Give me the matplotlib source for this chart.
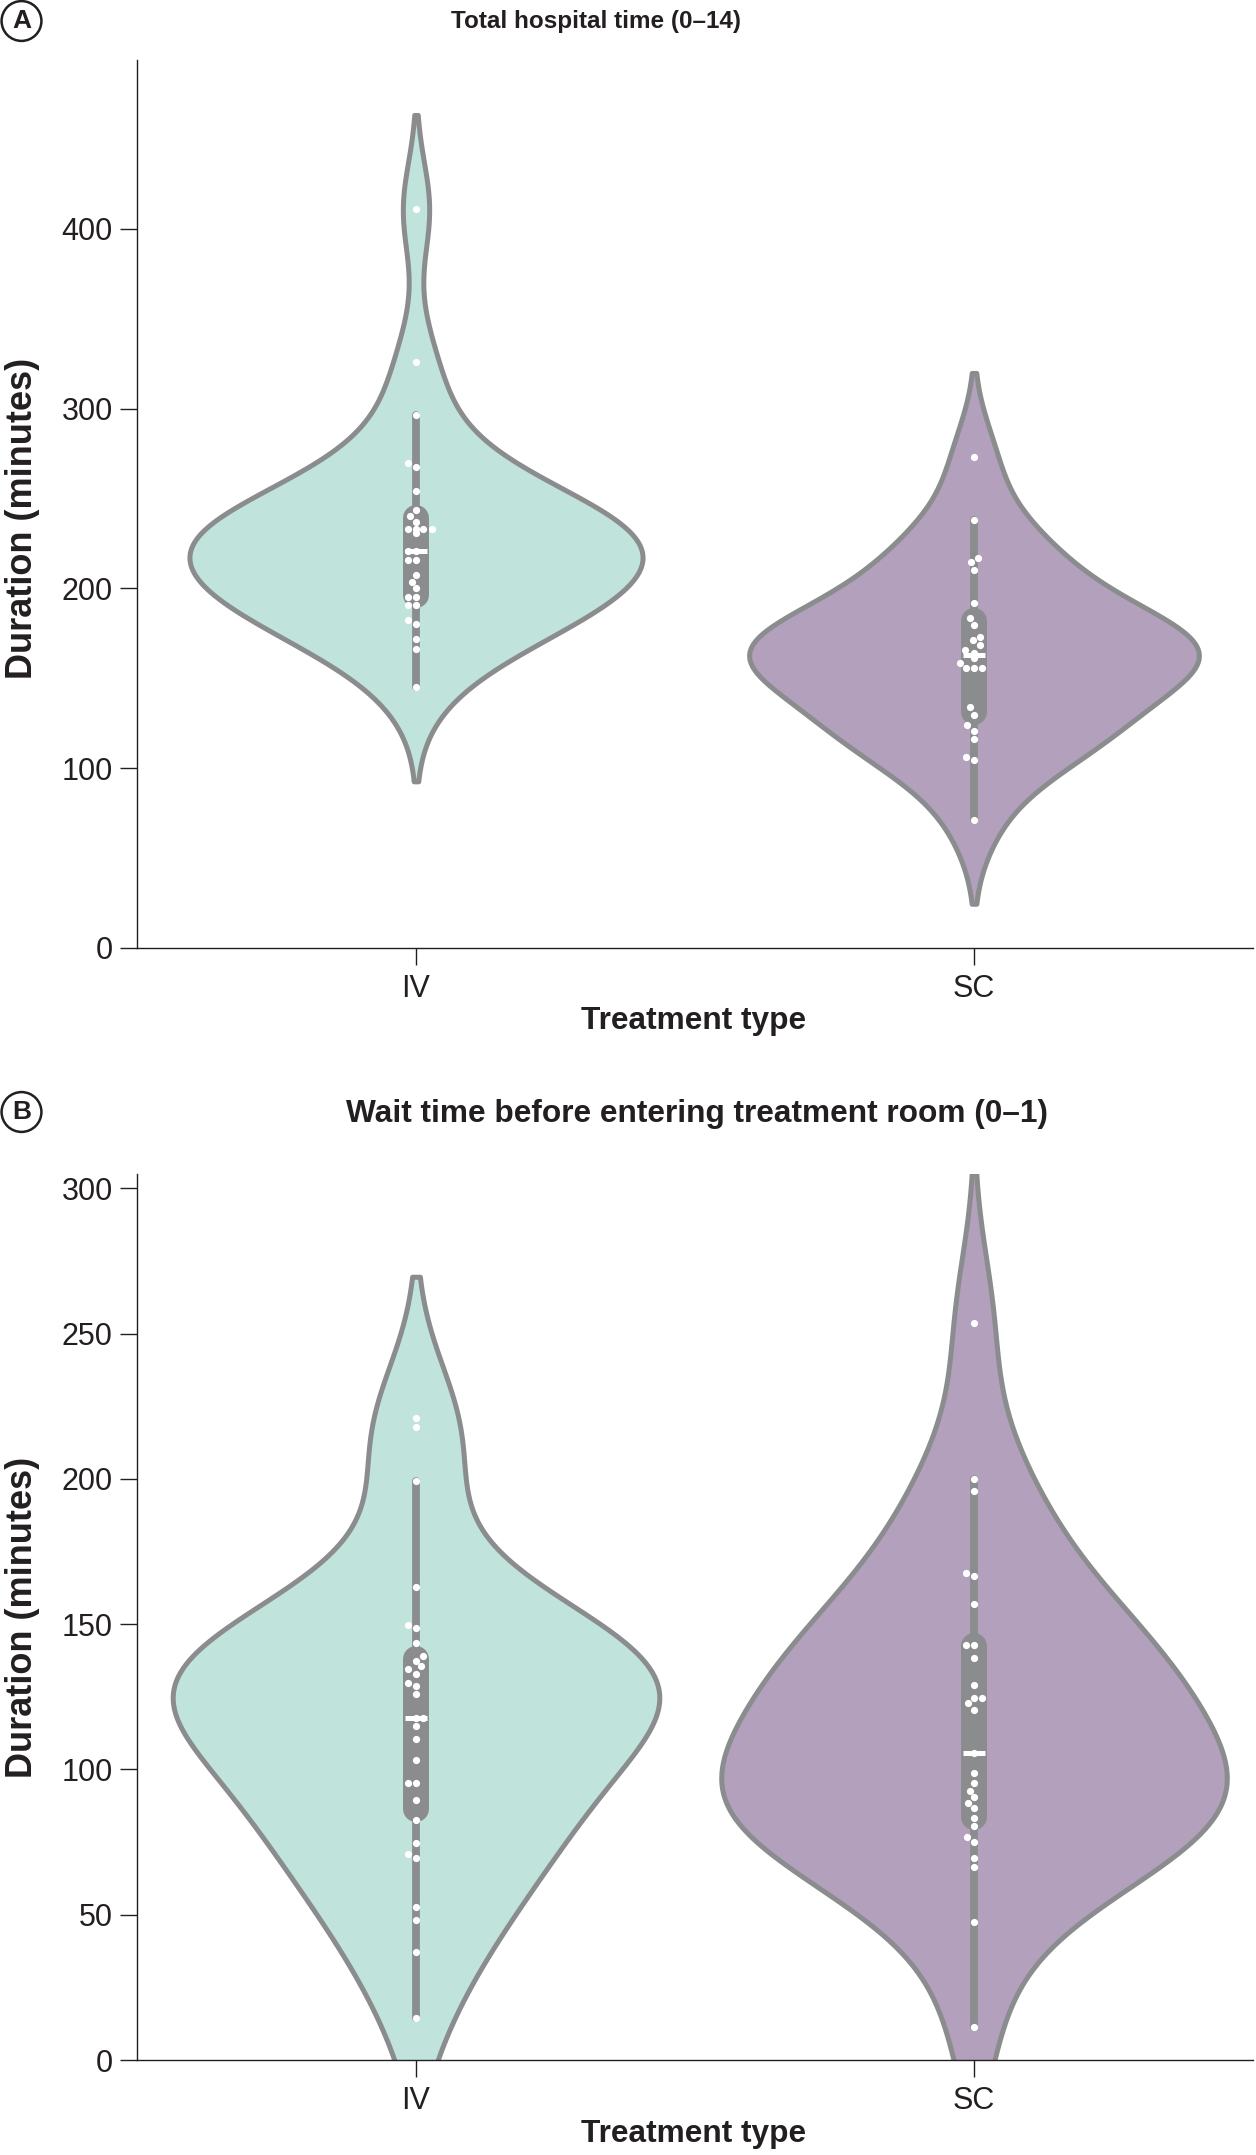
import numpy as np
import matplotlib
matplotlib.use("Agg")
import matplotlib.pyplot as plt

# data (minutes)
groups = ["IV", "SC"]

a_iv = [411, 326, 296.4, 269.5, 267.3, 254, 243.6, 240.2, 237, 233, 233, 233, 233,
        230.6, 220.7, 220.7, 215.7, 215.7, 207.4, 203.7, 200, 195.3, 195.3, 190.7,
        190.7, 182.4, 180, 171.6, 166.2, 145]
a_iv_jit = [0, 0, 0, -0.014, 0, 0, 0, -0.011, 0, -0.014, 0, 0.013, 0.028,
            0, -0.014, 0, -0.014, 0, 0, -0.008, 0, -0.014, 0, -0.014,
            0, -0.014, 0, 0, 0, 0]
a_sc = [273.2, 238, 216.7, 214.8, 210.2, 192, 183.3, 179.6, 173, 171.2, 168.4,
        165.7, 163.8, 161, 158.3, 155.5, 155.5, 155.5, 133.8, 129.5, 124, 120.8,
        116.1, 106.3, 104.4, 71.1]
a_sc_jit = [0, 0, 0.008, -0.005, 0, 0, -0.008, 0, 0.01, -0.002, 0.01,
            -0.016, 0, 0, -0.025, -0.014, 0, 0.014, -0.007, 0, -0.013, 0,
            0, -0.014, 0, 0]

b_iv = [221, 217.9, 199.4, 162.9, 149.7, 148.5, 143.4, 139, 137.4, 135.6, 134.4,
        133, 129.6, 128.7, 125.9, 117.8, 117.8, 114.9, 110.4, 103.2, 95.2, 95.2,
        89.5, 82.6, 74.8, 70.8, 69.4, 52.8, 48.2, 37.3, 14.6]
b_iv_jit = [0, 0, 0, 0, -0.014, 0, 0, 0.012, 0, 0.009, -0.014,
            0, -0.014, 0, 0, 0, 0.012, 0, 0, 0, -0.014, 0,
            0, 0, 0, -0.014, 0, 0, 0, 0, 0]
b_sc = [253.7, 199.8, 195.8, 167.7, 166.6, 156.9, 142.8, 142.8, 138.2, 129, 124.5,
        124.5, 122.9, 120.6, 105.5, 98.9, 95.2, 92.7, 90.6, 88.6, 86.6, 83.2, 80.5,
        76.6, 75.1, 69.4, 66.5, 47.6, 11.5]
b_sc_jit = [0, 0, 0, -0.014, 0, 0, -0.014, 0, 0, 0, 0,
            0.015, -0.01, 0, 0, 0, 0, -0.007, 0, -0.01, 0, 0, 0,
            -0.013, 0, 0, 0, 0, 0]

# box stats: whisker low, q1, median, q3, whisker high
a_box = [[145, 189, 220.7, 246.4, 296.4], [71.1, 124, 163, 188.9, 238]]
b_box = [[14.6, 82, 117.8, 142.5, 199.4], [11.5, 79.1, 105.5, 146.9, 199.8]]

a_title = "Total hospital time (0\u201314)"
b_title = "Wait time before entering treatment room (0\u20131)"

fills = ["#c0e3dc", "#b2a0bd"]
grey = "#8b8c8e"
ink = "#231f20"

W, H = 1256, 2155
fig = plt.figure(figsize=(W / 100, H / 100), dpi=100)
plt.rcParams['font.family'] = ['Liberation Sans', 'DejaVu Sans']


def kde(x, cut=2):
    # gaussian kde, scott's rule
    x = np.asarray(x, float)
    bw = np.std(x, ddof=1) * len(x) ** -0.2
    grid = np.linspace(x.min() - cut * bw, x.max() + cut * bw, 600)
    d = np.exp(-0.5 * ((grid[:, None] - x[None, :]) / bw) ** 2).sum(1)
    d /= len(x) * bw * np.sqrt(2 * np.pi)
    return grid, d


def panel(rect, ylim, yticks, data, jits, boxes, halfw):
    ax = fig.add_axes(rect)
    ax.set_xlim(-0.5, 1.5)
    ax.set_ylim(*ylim)
    ppu = rect[3] * H / (ylim[1] - ylim[0])  # pixels per minute
    for i in range(len(data)):
        g, d = kde(data[i])
        half = halfw[i] * d / d.max()
        ax.fill_betweenx(g, i - half, i + half, facecolor=fills[i],
                         edgecolor=grey, lw=3.6, zorder=1)
        lo, q1, med, q3, hi = boxes[i]
        ax.plot([i, i], [lo, hi], color=grey, lw=5.6, solid_capstyle='round', zorder=2)
        inset = 13 / ppu
        ax.plot([i, i], [q1 + inset, q3 - inset], color=grey, lw=18.7,
                solid_capstyle='round', zorder=2)
        ax.plot([i - 0.02, i + 0.02], [med, med], color='white', lw=3.6,
                solid_capstyle='butt', zorder=3)
        ax.scatter(i + np.asarray(jits[i]), data[i], s=27, c='white',
                   linewidths=0, zorder=4)
    for s in ['top', 'right']:
        ax.spines[s].set_visible(False)
    for s in ['left', 'bottom']:
        ax.spines[s].set_linewidth(1.0)
        ax.spines[s].set_color(ink)
    ax.set_yticks(yticks)
    ax.set_xticks([0, 1])
    ax.set_xticklabels(groups)
    ax.tick_params(axis='both', length=12, width=1, color=ink, labelcolor=ink,
                   labelsize=22)
    ax.tick_params(axis='y', pad=5.5)
    ax.tick_params(axis='x', pad=7)
    return ax


def fy(px):
    return 1 - px / H


ax_a = panel([137 / W, fy(947.7), 1116 / W, (947.7 - 60) / H], (0, 494),
             [0, 100, 200, 300, 400], [a_iv, a_sc], [a_iv_jit, a_sc_jit], a_box,
             [0.406, 0.403])
ax_b = panel([137 / W, fy(2060), 1116 / W, (2060 - 1174) / H], (0, 304.9),
             [0, 50, 100, 150, 200, 250, 300], [b_iv, b_sc], [b_iv_jit, b_sc_jit], b_box,
             [0.436, 0.453])

# titles and labels
fig.text(596 / W, fy(28), a_title, ha='center', va='baseline', fontsize=17.5,
         fontweight='bold', color=ink)
fig.text(697 / W, fy(1122), b_title, ha='center', va='baseline', fontsize=22.8,
         fontweight='bold', color=ink)
for yc in [1021, 2134]:
    fig.text(694 / W, fy(yc), "Treatment type", ha='center', va='center',
             fontsize=22.8, fontweight='bold', color=ink)
for yc in [518, 1617]:
    fig.text(22.5 / W, fy(yc), "Duration (minutes)", ha='center', va='center',
             rotation=90, fontsize=26, fontweight='bold', color=ink)
for lab, yc in [("A", 21), ("B", 1112)]:
    fig.text(21.5 / W, fy(yc), lab, ha='center', va='center', fontsize=19,
             fontweight='bold', color=ink,
             bbox=dict(boxstyle='circle,pad=0.3', fc='white', ec=ink, lw=1.8))

fig.savefig("out.png", dpi=100)
